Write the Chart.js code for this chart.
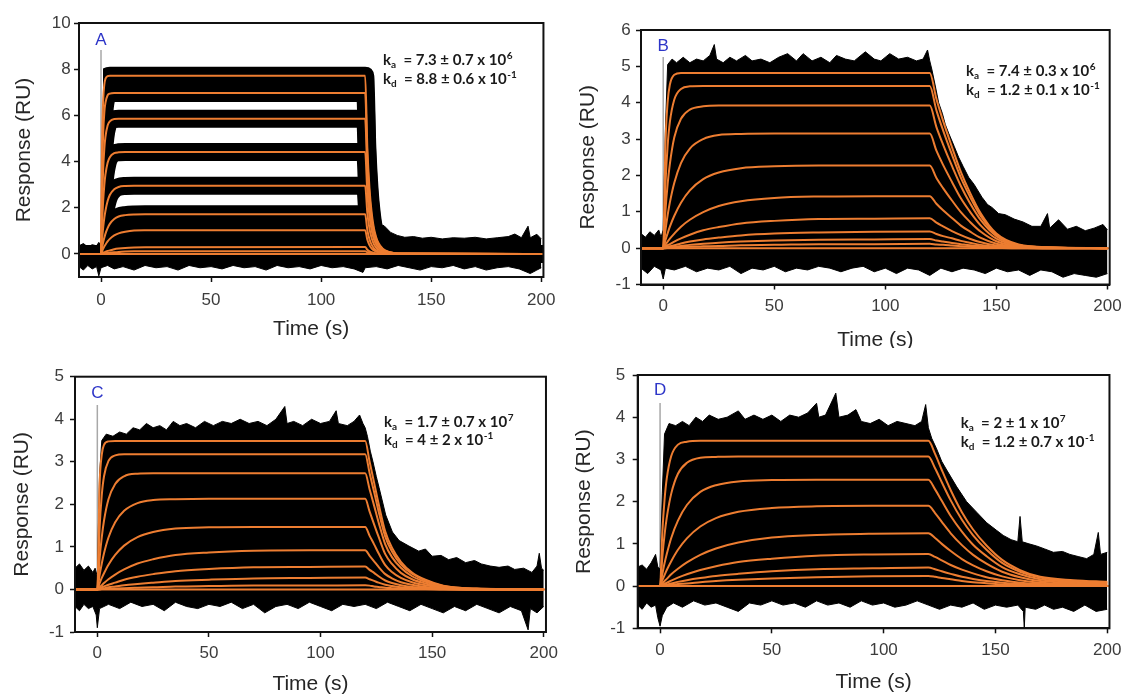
<!DOCTYPE html>
<html>
<head>
<meta charset="utf-8">
<script src="https://cdn.jsdelivr.net/npm/chart.js@4.4.1/dist/chart.umd.min.js"></script>
<style>
  body { margin: 0; background: #fff; }
  #wrap { position: relative; width: 1128px; height: 696px; }
  canvas { position: absolute; }
</style>
</head>
<body>
<div id="wrap">
  <canvas id="panelA" width="564" height="348" style="left:0;top:0"></canvas>
  <canvas id="panelB" width="564" height="348" style="left:564px;top:0"></canvas>
  <canvas id="panelC" width="564" height="348" style="left:0;top:348px"></canvas>
  <canvas id="panelD" width="564" height="348" style="left:564px;top:348px"></canvas>
</div>
<script>
// ---- data ----
const xTicks = [0, 50, 100, 150, 200];
const zeroLine = [[-10, 0], [201, 0]];

// A
const timeA = [-10, 0, 0.5, 1, 1.5, 2, 3, 4, 6, 8, 11, 15, 20, 120, 121, 122, 123, 124, 125, 126, 128, 131, 135, 200];
const fitA = [
  [0, 0, 4.88, 6.68, 7.33, 7.58, 7.70, 7.72, 7.72, 7.72, 7.72, 7.72, 7.72, 7.72, 4.60, 2.80, 1.75, 1.10, 0.72, 0.48, 0.22, 0.08, 0.02, 0],
  [0, 0, 3.51, 5.25, 6.12, 6.54, 6.87, 6.94, 6.97, 6.97, 6.97, 6.97, 6.97, 6.97, 4.15, 2.53, 1.58, 0.99, 0.65, 0.43, 0.20, 0.07, 0.02, 0],
  [0, 0, 2.30, 3.70, 4.55, 5.06, 5.56, 5.74, 5.84, 5.85, 5.85, 5.85, 5.85, 5.85, 3.49, 2.12, 1.33, 0.83, 0.54, 0.36, 0.16, 0.06, 0.02, 0],
  [0, 0, 1.38, 2.33, 2.98, 3.43, 3.95, 4.19, 4.36, 4.40, 4.41, 4.41, 4.41, 4.41, 2.63, 1.60, 1.00, 0.63, 0.41, 0.27, 0.12, 0.04, 0.01, 0],
  [0, 0, 0.65, 1.16, 1.56, 1.86, 2.29, 2.55, 2.80, 2.90, 2.94, 2.95, 2.95, 2.95, 1.76, 1.07, 0.67, 0.42, 0.27, 0.18, 0.08, 0.03, 0.01, 0],
  [0, 0, 0.28, 0.51, 0.70, 0.87, 1.12, 1.30, 1.51, 1.62, 1.68, 1.71, 1.72, 1.72, 1.03, 0.62, 0.39, 0.24, 0.16, 0.11, 0.05, 0.02, 0.01, 0],
  [0, 0, 0.12, 0.23, 0.32, 0.40, 0.54, 0.65, 0.80, 0.89, 0.96, 1.01, 1.02, 1.03, 0.61, 0.37, 0.23, 0.15, 0.10, 0.06, 0.03, 0.01, 0, 0],
  [0, 0, 0.03, 0.05, 0.07, 0.09, 0.13, 0.15, 0.20, 0.23, 0.26, 0.28, 0.29, 0.30, 0.18, 0.11, 0.07, 0.04, 0.03, 0.02, 0.01, 0, 0, 0],
  [0, 0, 0.01, 0.02, 0.02, 0.03, 0.04, 0.05, 0.07, 0.08, 0.10, 0.11, 0.11, 0.12, 0.07, 0.04, 0.03, 0.02, 0.01, 0.01, 0, 0, 0, 0]
];
const noiseHiA = [[-10, 0.35], [-8, 0.45], [-6, 0.3], [-4, 0.4], [-2, 0.35], [-1, 0.5], [0, 0.35], [120, 0.35], [122, 2.2],
  [124, 1.5], [126, 1.3], [128.6, 1.22], [131.6, 0.93], [134.6, 0.8], [138, 0.72], [142, 0.75], [146, 0.68], [150, 0.72],
  [155, 0.65], [160, 0.7], [165, 0.68], [170, 0.72], [175, 0.65], [180, 0.7], [185, 0.75], [188, 0.86], [191, 0.7],
  [194, 1.2], [195, 0.7], [198, 0.85], [200, 0.65]];
const noiseLoA = [[-10, -0.55], [-8, -0.7], [-6, -0.5], [-4, -0.65], [-2, -0.55], [-1, -0.95], [0, -0.6], [3, -0.5], [6, -0.65],
  [10, -0.55], [15, -0.7], [20, -0.5], [25, -0.6], [30, -0.55], [35, -0.7], [40, -0.5], [45, -0.6], [50, -0.55], [55, -0.65],
  [60, -0.5], [65, -0.6], [70, -0.55], [75, -0.7], [80, -0.5], [85, -0.6], [90, -0.55], [95, -0.65], [100, -0.5], [105, -0.6],
  [110, -0.55], [115, -0.65], [119, -0.8], [120, -0.6], [125, -0.55], [130, -0.65], [135, -0.5], [140, -0.6], [145, -0.7],
  [150, -0.55], [155, -0.6], [160, -0.5], [165, -0.65], [170, -0.55], [175, -0.7], [180, -0.6], [185, -0.55], [190, -0.65],
  [195, -0.85], [198, -0.7], [200, -0.6]];
const yTicksA = [0, 2, 4, 6, 8, 10];
const kaA = ['7.3 ± 0.7 x 10', '6'];
const kdA = ['8.8 ± 0.6 x 10', '-1'];

// B
const timeB = [-10, 0, 1, 2, 3, 5, 8, 12, 18, 25, 35, 50, 70, 95, 120, 123, 126, 130, 134, 138, 143, 150, 160, 175, 200];
const fitB = [
  [0, 0, 2.86, 4.02, 4.50, 4.77, 4.82, 4.82, 4.82, 4.82, 4.82, 4.82, 4.82, 4.82, 4.82, 4.10, 3.50, 2.78, 2.10, 1.54, 0.95, 0.40, 0.10, 0.02, 0],
  [0, 0, 1.75, 2.82, 3.47, 4.09, 4.38, 4.45, 4.46, 4.46, 4.46, 4.46, 4.46, 4.46, 4.46, 3.79, 3.24, 2.57, 1.94, 1.43, 0.88, 0.37, 0.09, 0.02, 0],
  [0, 0, 1.02, 1.77, 2.32, 3.05, 3.56, 3.81, 3.90, 3.92, 3.92, 3.92, 3.92, 3.92, 3.92, 3.33, 2.85, 2.26, 1.71, 1.25, 0.77, 0.33, 0.08, 0.02, 0],
  [0, 0, 0.49, 0.91, 1.26, 1.80, 2.34, 2.74, 3.00, 3.11, 3.14, 3.15, 3.15, 3.15, 3.15, 2.68, 2.29, 1.82, 1.37, 1.01, 0.62, 0.26, 0.07, 0.01, 0],
  [0, 0, 0.22, 0.41, 0.59, 0.89, 1.25, 1.59, 1.90, 2.08, 2.20, 2.25, 2.27, 2.27, 2.27, 1.93, 1.65, 1.31, 0.99, 0.73, 0.45, 0.19, 0.05, 0.01, 0],
  [0, 0, 0.09, 0.18, 0.26, 0.40, 0.59, 0.78, 0.99, 1.16, 1.29, 1.38, 1.42, 1.43, 1.43, 1.22, 1.04, 0.83, 0.62, 0.46, 0.28, 0.12, 0.03, 0.01, 0],
  [0, 0, 0.04, 0.08, 0.11, 0.18, 0.27, 0.37, 0.49, 0.58, 0.68, 0.75, 0.80, 0.81, 0.82, 0.70, 0.60, 0.47, 0.36, 0.26, 0.16, 0.07, 0.02, 0, 0],
  [0, 0, 0.02, 0.04, 0.05, 0.08, 0.13, 0.18, 0.24, 0.29, 0.35, 0.40, 0.43, 0.45, 0.46, 0.39, 0.33, 0.27, 0.20, 0.15, 0.09, 0.04, 0.01, 0, 0],
  [0, 0, 0.01, 0.02, 0.03, 0.04, 0.06, 0.09, 0.12, 0.15, 0.18, 0.21, 0.23, 0.24, 0.25, 0.21, 0.18, 0.14, 0.11, 0.08, 0.05, 0.02, 0.01, 0, 0],
  [0, 0, 0, 0.01, 0.01, 0.02, 0.03, 0.04, 0.05, 0.06, 0.08, 0.09, 0.11, 0.11, 0.12, 0.10, 0.09, 0.07, 0.05, 0.04, 0.02, 0.01, 0, 0, 0]
];
const noiseHiB = [[-10, 0.4], [-8, 0.3], [-6, 0.45], [-4, 0.35], [-2, 0.5], [-1, 0.3], [0, 0.5], [1, 3.3], [2, 5.05], [4, 5.2],
  [6, 5.1], [9, 5.25], [12, 5.1], [15, 5.2], [18, 5.15], [21, 5.3], [23, 5.6], [24, 5.2], [27, 5.1], [30, 5.25], [33, 5.15],
  [37, 5.3], [40, 5.15], [44, 5.2], [48, 5.1], [52, 5.25], [56, 5.35], [60, 5.15], [63, 5.35], [67, 5.15], [71, 5.25], [75, 5.1],
  [78, 5.3], [82, 5.2], [86, 5.15], [91, 5.4], [95, 5.2], [98, 5.15], [102, 5.35], [106, 5.2], [110, 5.25], [114, 5.15],
  [117, 5.2], [119, 5.45], [120, 5.15], [121, 4.9], [122.7, 4.4], [124, 4.0], [125.7, 3.7], [127, 3.4], [128.6, 3.15],
  [131, 2.8], [133, 2.5], [135, 2.25], [137.5, 1.95], [140, 1.75], [143.5, 1.4], [146, 1.2], [148, 1.12], [151, 0.95],
  [154, 0.92], [158, 0.8], [162, 0.72], [166, 0.6], [170, 0.6], [173, 0.95], [174, 0.55], [178, 0.78], [182, 0.52],
  [186, 0.6], [190, 0.48], [194, 0.55], [198, 0.65], [200, 0.5]];
const noiseLoB = [[-10, -0.55], [-7, -0.7], [-4, -0.5], [-1, -0.6], [0, -0.85], [1, -0.55], [5, -0.6], [10, -0.5], [15, -0.65],
  [20, -0.55], [25, -0.6], [30, -0.5], [35, -0.7], [40, -0.55], [45, -0.6], [50, -0.5], [55, -0.65], [60, -0.55], [65, -0.6],
  [70, -0.5], [75, -0.55], [80, -0.65], [85, -0.55], [90, -0.5], [95, -0.65], [100, -0.55], [105, -0.7], [110, -0.55],
  [115, -0.6], [120, -0.75], [125, -0.55], [130, -0.65], [135, -0.55], [140, -0.6], [145, -0.7], [150, -0.55], [155, -0.65],
  [160, -0.6], [165, -0.75], [170, -0.6], [175, -0.65], [180, -0.8], [185, -0.7], [190, -0.75], [195, -0.8], [200, -0.7]];
const yTicksB = [-1, 0, 1, 2, 3, 4, 5, 6];
const kaB = ['7.4 ± 0.3 x 10', '6'];
const kdB = ['1.2 ± 0.1 x 10', '-1'];

// C
const timeC = [-10, 0, 1, 2, 3, 5, 8, 12, 18, 25, 35, 50, 70, 95, 120, 122, 124, 126, 129, 132, 136, 141, 147, 155, 170, 200];
const fitC = [
  [0, 0, 2.44, 3.17, 3.40, 3.48, 3.49, 3.49, 3.49, 3.49, 3.49, 3.49, 3.49, 3.49, 3.49, 3.00, 2.51, 2.02, 1.36, 0.98, 0.65, 0.40, 0.23, 0.09, 0.02, 0],
  [0, 0, 1.43, 2.22, 2.66, 3.02, 3.15, 3.18, 3.18, 3.18, 3.18, 3.18, 3.18, 3.18, 3.18, 2.73, 2.29, 1.84, 1.24, 0.89, 0.59, 0.37, 0.21, 0.08, 0.02, 0],
  [0, 0, 0.71, 1.23, 1.62, 2.12, 2.48, 2.66, 2.72, 2.73, 2.73, 2.73, 2.73, 2.73, 2.73, 2.35, 1.97, 1.58, 1.06, 0.76, 0.51, 0.31, 0.18, 0.07, 0.01, 0],
  [0, 0, 0.33, 0.61, 0.85, 1.22, 1.58, 1.85, 2.03, 2.10, 2.12, 2.13, 2.13, 2.13, 2.13, 1.83, 1.53, 1.24, 0.83, 0.60, 0.39, 0.24, 0.14, 0.05, 0.01, 0],
  [0, 0, 0.14, 0.27, 0.38, 0.58, 0.81, 1.03, 1.23, 1.35, 1.43, 1.46, 1.47, 1.47, 1.47, 1.26, 1.06, 0.85, 0.57, 0.41, 0.27, 0.17, 0.10, 0.04, 0.01, 0],
  [0, 0, 0.05, 0.10, 0.15, 0.24, 0.35, 0.47, 0.61, 0.71, 0.81, 0.87, 0.91, 0.92, 0.92, 0.79, 0.66, 0.53, 0.36, 0.26, 0.17, 0.11, 0.06, 0.02, 0, 0],
  [0, 0, 0.02, 0.05, 0.07, 0.11, 0.16, 0.23, 0.30, 0.36, 0.43, 0.48, 0.52, 0.53, 0.54, 0.46, 0.39, 0.31, 0.21, 0.15, 0.10, 0.06, 0.04, 0.01, 0, 0],
  [0, 0, 0.01, 0.02, 0.03, 0.05, 0.07, 0.10, 0.13, 0.16, 0.20, 0.23, 0.26, 0.27, 0.28, 0.24, 0.20, 0.16, 0.11, 0.08, 0.05, 0.03, 0.02, 0.01, 0, 0],
  [0, 0, 0, 0.01, 0.01, 0.01, 0.02, 0.03, 0.04, 0.05, 0.07, 0.08, 0.09, 0.09, 0.10, 0.09, 0.07, 0.06, 0.04, 0.03, 0.02, 0.01, 0.01, 0, 0, 0]
];
const noiseHiC = [[-10, 0.5], [-8, 0.6], [-6, 0.45], [-4, 0.55], [-2, 0.4], [-1, 0.5], [0, 0.3], [1, 2.7], [2, 3.5], [4, 3.65],
  [7, 3.6], [10, 3.7], [13, 3.65], [16, 3.8], [19, 3.75], [22, 3.9], [25, 3.8], [28, 3.85], [31, 3.75], [34, 3.95], [37, 3.85],
  [40, 3.9], [44, 3.8], [48, 3.95], [52, 3.85], [56, 3.95], [60, 3.9], [64, 4.0], [68, 3.9], [72, 3.95], [76, 3.85], [80, 4.0],
  [84, 4.3], [85, 3.9], [88, 3.95], [92, 3.85], [96, 4.0], [100, 3.9], [104, 3.95], [107, 4.2], [108, 3.9], [112, 3.85],
  [115, 3.95], [117.5, 4.1], [119, 3.9], [120, 3.8], [121, 3.6], [122.3, 3.25], [123.5, 3.0], [125, 2.65], [126.2, 2.4],
  [129.2, 1.75], [132.2, 1.35], [135.2, 1.15], [139.6, 1.02], [144, 0.9], [147, 0.95], [150, 0.78], [154, 0.8], [157.4, 0.7],
  [161, 0.75], [165, 0.63], [169, 0.68], [172, 0.6], [176, 0.55], [180, 0.52], [184, 0.55], [187, 0.47], [191, 0.5],
  [194.7, 0.4], [197, 0.55], [198, 0.85], [199, 0.5], [200, 0.45]];
const noiseLoC = [[-10, -0.4], [-8, -0.5], [-6, -0.35], [-4, -0.45], [-2, -0.4], [-0.5, -0.6], [0, -0.9], [1, -0.45], [5, -0.35],
  [10, -0.45], [15, -0.3], [20, -0.4], [25, -0.35], [30, -0.5], [35, -0.3], [40, -0.4], [45, -0.45], [50, -0.35], [55, -0.4],
  [60, -0.3], [65, -0.45], [70, -0.35], [75, -0.55], [80, -0.4], [85, -0.35], [90, -0.45], [95, -0.3], [100, -0.4], [105, -0.5],
  [110, -0.35], [115, -0.4], [120, -0.35], [125, -0.45], [130, -0.3], [135, -0.4], [140, -0.5], [145, -0.35], [150, -0.45],
  [155, -0.55], [160, -0.4], [165, -0.5], [170, -0.35], [175, -0.45], [180, -0.55], [185, -0.4], [190, -0.5], [193, -0.95],
  [194, -0.45], [197, -0.55], [200, -0.4]];
const yTicksC = [-1, 0, 1, 2, 3, 4, 5];
const kaC = ['1.7 ± 0.7 x 10', '7'];
const kdC = ['4 ± 2 x 10', '-1'];

// D
const timeD = [-10, 0, 1, 2, 3, 5, 8, 12, 18, 25, 35, 50, 70, 95, 120, 123, 126, 130, 135, 140, 146, 153, 161, 170, 185, 200];
const fitD = [
  [0, 0, 1.25, 2.04, 2.55, 3.08, 3.35, 3.42, 3.44, 3.44, 3.44, 3.44, 3.44, 3.44, 3.44, 3.13, 2.75, 2.27, 1.75, 1.34, 0.96, 0.62, 0.38, 0.22, 0.14, 0.10],
  [0, 0, 0.68, 1.21, 1.62, 2.19, 2.66, 2.92, 3.04, 3.06, 3.07, 3.07, 3.07, 3.07, 3.07, 2.79, 2.46, 2.03, 1.57, 1.20, 0.86, 0.55, 0.34, 0.20, 0.12, 0.09],
  [0, 0, 0.28, 0.54, 0.76, 1.14, 1.55, 1.92, 2.23, 2.39, 2.48, 2.51, 2.52, 2.52, 2.52, 2.29, 2.02, 1.66, 1.29, 0.98, 0.71, 0.45, 0.28, 0.16, 0.10, 0.08],
  [0, 0, 0.14, 0.26, 0.38, 0.59, 0.86, 1.13, 1.41, 1.61, 1.76, 1.85, 1.89, 1.90, 1.90, 1.73, 1.52, 1.25, 0.97, 0.74, 0.53, 0.34, 0.21, 0.12, 0.08, 0.06],
  [0, 0, 0.06, 0.12, 0.17, 0.28, 0.41, 0.56, 0.74, 0.89, 1.03, 1.15, 1.21, 1.24, 1.25, 1.14, 1.00, 0.83, 0.64, 0.49, 0.35, 0.23, 0.14, 0.08, 0.05, 0.04],
  [0, 0, 0.03, 0.06, 0.08, 0.13, 0.20, 0.28, 0.38, 0.47, 0.57, 0.65, 0.72, 0.75, 0.76, 0.69, 0.61, 0.50, 0.39, 0.30, 0.21, 0.14, 0.08, 0.05, 0.03, 0.02],
  [0, 0, 0.01, 0.03, 0.04, 0.06, 0.10, 0.14, 0.19, 0.24, 0.29, 0.35, 0.40, 0.42, 0.44, 0.40, 0.35, 0.29, 0.22, 0.17, 0.12, 0.08, 0.05, 0.03, 0.02, 0.01],
  [0, 0, 0.01, 0.01, 0.02, 0.03, 0.05, 0.06, 0.09, 0.12, 0.15, 0.18, 0.21, 0.23, 0.24, 0.22, 0.19, 0.16, 0.12, 0.09, 0.07, 0.04, 0.03, 0.02, 0.01, 0.01]
];
const noiseHiD = [[-10, 0.45], [-8, 0.5], [-6, 0.4], [-4, 0.55], [-2, 0.75], [-1, 0.45], [0, 0.4], [1, 2.2], [2, 3.6], [4, 3.85],
  [7, 3.8], [10, 3.9], [13, 3.8], [16, 4.0], [19, 3.9], [22, 4.05], [26, 3.95], [30, 4.0], [35, 4.15], [38, 3.95], [42, 4.05],
  [46, 3.95], [50, 4.05], [54, 3.9], [58, 4.05], [62, 4.0], [66, 4.1], [70, 4.33], [71, 4.0], [74, 4.05], [78.6, 4.57], [80, 4.0],
  [84, 4.05], [87.6, 4.18], [90, 3.9], [94, 3.85], [98, 3.95], [102, 3.8], [106, 3.9], [110, 3.85], [114, 3.8], [117, 3.9],
  [118.8, 4.3], [120, 3.75], [121.5, 3.5], [123.7, 3.25], [126, 2.95], [128.2, 2.75], [132.7, 2.35], [137.1, 2.0], [141.6, 1.75],
  [146.1, 1.5], [150.5, 1.32], [153.5, 1.2], [157, 1.1], [160, 1.05], [161, 1.65], [162, 1.05], [165, 1.0], [168.4, 0.95],
  [172, 0.88], [175.9, 0.8], [180, 0.82], [183.3, 0.75], [187, 0.7], [190.8, 0.65], [194, 0.75], [196, 1.27], [197, 0.75],
  [200, 0.8]];
const noiseLoD = [[-10, -0.45], [-8, -0.55], [-6, -0.4], [-4, -0.5], [-2, -0.45], [-1, -0.75], [0, -0.95], [1, -0.7], [3, -0.5],
  [6, -0.4], [10, -0.5], [15, -0.35], [20, -0.45], [25, -0.4], [30, -0.5], [35, -0.6], [40, -0.4], [45, -0.45], [50, -0.35],
  [55, -0.45], [60, -0.4], [65, -0.5], [70, -0.35], [75, -0.45], [80, -0.4], [85, -0.5], [90, -0.35], [95, -0.45], [100, -0.4],
  [105, -0.5], [110, -0.45], [115, -0.35], [120, -0.45], [125, -0.55], [130, -0.45], [135, -0.5], [140, -0.4], [145, -0.55],
  [150, -0.45], [155, -0.5], [160, -0.45], [162.5, -0.6], [162.9, -1.0], [163.3, -0.5], [168, -0.55], [172, -0.45], [176, -0.55],
  [180, -0.5], [185, -0.6], [190, -0.45], [195, -0.6], [200, -0.55]];
const yTicksD = [-1, 0, 1, 2, 3, 4, 5];
const kaD = ['2 ± 1 x 10', '7'];
const kdD = ['1.2 ± 0.7 x 10', '-1'];

// ---- drawing ----
const ORANGE = '#ED7D31';
const FONT = 'Arial, "Liberation Sans", sans-serif';

const panels = [
  { id: 'panelA', letter: 'A', time: timeA, fits: fitA, hi: noiseHiA, lo: noiseLoA, yMin: -1, yMax: 10, yTicks: yTicksA,
    band: 18, bandClip: 24, left: 79, padR: 16, top: 23, xh: 71, padX: 8.5, padY: 3.3, letterY: 40, markTop: 50, respX: 24,
    timeY: 329, rateX: 383, rateY: [64.5, 83.5], ka: kaA, kd: kdA },
  { id: 'panelB', letter: 'B', time: timeB, fits: fitB, hi: noiseHiB, lo: noiseLoB, yMin: -1, yMax: 6, yTicks: yTicksB,
    band: 0, left: 77, padR: 14, top: 30, xh: 63.5, padX: 6.3, padY: 5.3, letterY: 46, markTop: 57, respX: 24.5, timeY: 340,
    rateX: 402, rateY: [76, 94.5], ka: kaB, kd: kdB },
  { id: 'panelC', letter: 'C', time: timeC, fits: fitC, hi: noiseHiC, lo: noiseLoC, yMin: -1, yMax: 5, yTicks: yTicksC,
    band: 0, left: 75, padR: 17, top: 28.7, xh: 64, padX: 6, padY: 6, letterY: 45.3, markTop: 57, respX: 22.5, timeY: 336,
    rateX: 384, rateY: [78.5, 97], ka: kaC, kd: kdC },
  { id: 'panelD', letter: 'D', time: timeD, fits: fitD, hi: noiseHiD, lo: noiseLoD, yMin: -1, yMax: 5, yTicks: yTicksD,
    band: 0, left: 73.7, padR: 18, top: 27, xh: 67.7, padX: 6.5, padY: 7.4, letterY: 42, markTop: 55, respX: 20, timeY: 334,
    rateX: 396.7, rateY: [80, 98.7], ka: kaD, kd: kdD }
];

function drawRate(ctx, x, y, sub, parts) {
  const big = 'bold 15px Lato', small = 'bold 10px Lato';
  ctx.save();
  ctx.fillStyle = '#1a1a1a';
  ctx.textAlign = 'left';
  ctx.textBaseline = 'alphabetic';
  let cx = x;
  ctx.font = big;
  ctx.fillText('k', cx, y);
  cx += ctx.measureText('k').width;
  ctx.font = small;
  ctx.fillText(sub, cx, y + 3);
  cx += ctx.measureText(sub).width;
  ctx.font = big;
  const main = '  = ' + parts[0];
  ctx.fillText(main, cx, y);
  cx += ctx.measureText(main).width;
  ctx.font = small;
  ctx.fillText(parts[1], cx + 0.5, y - 6);
  ctx.restore();
}

function decorFor(p) {
  return {
    id: 'decor',
    beforeDatasetsDraw(chart) {
      const { ctx, scales: { x, y } } = chart;
      const x0 = x.getPixelForValue(0);
      ctx.save();
      ctx.strokeStyle = '#a8a8a8';
      ctx.lineWidth = 1.5;
      ctx.beginPath();
      ctx.moveTo(x0, p.markTop);
      ctx.lineTo(x0, y.getPixelForValue(0));
      ctx.stroke();
      ctx.restore();
    },
    afterDraw(chart) {
      const { ctx, chartArea: a, scales: { x } } = chart;
      ctx.save();
      ctx.strokeStyle = '#111';
      ctx.lineWidth = 2;
      ctx.strokeRect(a.left, a.top, a.right - a.left, a.bottom - a.top);

      ctx.textAlign = 'center';
      ctx.textBaseline = 'middle';
      ctx.fillStyle = '#2d35c8';
      ctx.font = '17px ' + FONT;
      ctx.fillText(p.letter, x.getPixelForValue(0), p.letterY);

      ctx.fillStyle = '#262626';
      ctx.font = '21px ' + FONT;
      ctx.fillText('Time (s)', (a.left + a.right) / 2, p.timeY);
      ctx.translate(p.respX, (a.top + a.bottom) / 2);
      ctx.rotate(-Math.PI / 2);
      ctx.fillText('Response (RU)', 0, 0);
      ctx.restore();

      drawRate(ctx, p.rateX, p.rateY[0], 'a', p.ka);
      drawRate(ctx, p.rateX, p.rateY[1], 'd', p.kd);
    }
  };
}

function axisStyle(pad) {
  return {
    grid: { drawOnChartArea: false, color: '#111', tickLength: 5, tickWidth: 1.5 },
    border: { display: true, color: '#111', width: 2 },
    ticks: { padding: pad, color: '#3c3c3c', font: { family: FONT, size: 17 }, maxRotation: 0, autoSkip: false }
  };
}

function build(p) {
  const pts = arr => arr.map(([x, y]) => ({ x, y }));
  const along = vals => p.time.map((t, i) => ({ x: t, y: vals[i] }));
  const base = { pointRadius: 0, clip: 0, fill: false };
  const ds = [];

  // spread of the raw sensorgram traces (black)
  ds.push({ ...base, data: pts(p.hi), borderColor: '#000', backgroundColor: '#000', borderWidth: 1, fill: 'origin', tension: 0, order: 3 });
  ds.push({ ...base, data: pts(p.lo), borderColor: '#000', backgroundColor: '#000', borderWidth: 1, fill: 'origin', tension: 0, order: 3 });
  if (p.band) {
    ds.push({ ...base, data: pts(zeroLine), borderColor: '#000', borderWidth: p.band, order: 2 });
    // the traces only start once the injection is under way
    p.fits.forEach(v => ds.push({ ...base, data: along(v), borderColor: '#000', borderWidth: p.band,
      clip: { left: -p.bandClip, top: 0, right: 0, bottom: 0 },
      cubicInterpolationMode: 'monotone', borderJoinStyle: 'round', order: 2 }));
  }

  // fitted curves (orange)
  ds.push({ ...base, data: pts(zeroLine), borderColor: ORANGE, borderWidth: 2, order: 1 });
  p.fits.forEach(v => ds.push({ ...base, data: along(v), borderColor: ORANGE, borderWidth: 2,
    cubicInterpolationMode: 'monotone', order: 1 }));

  const xs = axisStyle(p.padX);
  const ys = axisStyle(p.padY);

  new Chart(document.getElementById(p.id), {
    type: 'line',
    data: { datasets: ds },
    options: {
      responsive: false,
      animation: false,
      events: [],
      layout: { padding: { left: 0, right: p.padR, top: p.top, bottom: 0 } },
      plugins: { legend: { display: false }, tooltip: { enabled: false } },
      scales: {
        x: { ...xs, type: 'linear', min: -10, max: 201,
          afterBuildTicks: s => { s.ticks = xTicks.map(value => ({ value })); },
          afterFit: s => { s.height = p.xh; } },
        y: { ...ys, type: 'linear', min: p.yMin, max: p.yMax,
          afterBuildTicks: s => { s.ticks = p.yTicks.map(value => ({ value })); },
          afterFit: s => { s.width = p.left; } }
      }
    },
    plugins: [decorFor(p)]
  });
}

panels.forEach(build);
</script>
</body>
</html>
